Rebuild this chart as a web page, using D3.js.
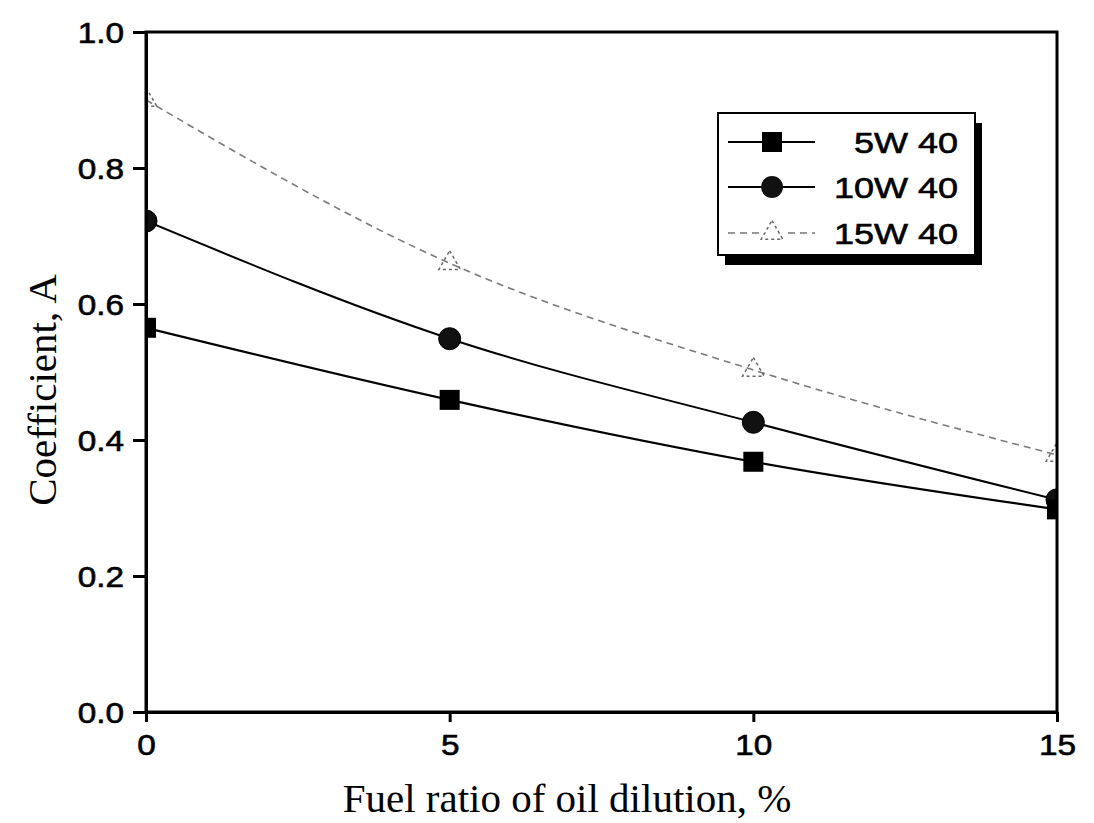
<!DOCTYPE html>
<html>
<head>
<meta charset="utf-8">
<script src="https://cdn.jsdelivr.net/npm/d3@7"></script>
<style>
  html, body { margin: 0; padding: 0; background: #fff; }
  svg { display: block; }
</style>
</head>
<body>
<svg id="chart" width="1094" height="823"></svg>
<script>
// ---- data ----
const dilution = [0, 5, 10, 15];
const oil5W40  = [0.565, 0.459, 0.368, 0.298];
const oil10W40 = [0.722, 0.549, 0.426, 0.312];
const oil15W40 = [0.90, 0.66, 0.503, 0.378];
const seriesNames = ["5W 40", "10W 40", "15W 40"];
const xTicks = [0, 5, 10, 15];
const yTicks = [0.0, 0.2, 0.4, 0.6, 0.8, 1.0];
const xTitle = "Fuel ratio of oil dilution, %";
const yTitle = "Coefficient, A";

const svg = d3.select("#chart");
const L = 146, R = 1057, T = 32, B = 712;
const x = d3.scaleLinear().domain([0, 15]).range([L, R]);
const y = d3.scaleLinear().domain([0, 1]).range([B, T]);

svg.append("defs").append("clipPath").attr("id", "plotclip")
  .append("rect").attr("x", L).attr("y", T).attr("width", R - L).attr("height", B - T);

const plot = svg.append("g").attr("clip-path", "url(#plotclip)");

const line = d3.line().x((d, i) => x(dilution[i])).y(d => y(d)).curve(d3.curveMonotoneX);

// 15W 40: faint dashed
plot.append("path").datum(oil15W40).attr("d", line)
  .attr("fill", "none").attr("stroke", "#7a7a7a").attr("stroke-width", 1.6)
  .attr("stroke-dasharray", "7,5");
plot.append("path").datum(oil10W40).attr("d", line)
  .attr("fill", "none").attr("stroke", "#000").attr("stroke-width", 2);
plot.append("path").datum(oil5W40).attr("d", line)
  .attr("fill", "none").attr("stroke", "#000").attr("stroke-width", 2.2);

const sq = 20, cr = 11, tri = d3.symbol().type(d3.symbolTriangle).size(200);

plot.selectAll(".tri").data(oil15W40).join("path")
  .attr("transform", (d, i) => `translate(${x(dilution[i])},${y(d)})`)
  .attr("d", tri()).attr("fill", "none").attr("stroke", "#666")
  .attr("stroke-width", 1.5).attr("stroke-dasharray", "3,3");

plot.selectAll(".circ").data(oil10W40).join("circle")
  .attr("cx", (d, i) => x(dilution[i])).attr("cy", d => y(d)).attr("r", cr)
  .attr("fill", "#111").attr("stroke", "#000").attr("stroke-width", 1);

plot.selectAll(".sq").data(oil5W40).join("rect")
  .attr("x", (d, i) => x(dilution[i]) - sq / 2).attr("y", d => y(d) - sq / 2)
  .attr("width", sq).attr("height", sq).attr("fill", "#000");

// ---- frame ----
svg.append("rect").attr("x", L).attr("y", T).attr("width", R - L).attr("height", B - T)
  .attr("fill", "none").attr("stroke", "#000").attr("stroke-width", 3);

// ---- axes ----
const fontSans = "'Liberation Sans', Arial, sans-serif";
const yAxis = svg.append("g").attr("transform", `translate(${L},0)`)
  .call(d3.axisLeft(y).tickValues(yTicks).tickFormat(d3.format(".1f")).tickSize(13).tickSizeOuter(0));
yAxis.select(".domain").attr("stroke-width", 3);
yAxis.selectAll(".tick line").attr("stroke-width", 3);
yAxis.selectAll(".tick text")
  .attr("x", 0).attr("dy", "0.36em")
  .attr("transform", "translate(-22,0) scale(1.15,1)")
  .attr("font-family", fontSans).attr("font-size", 29).attr("fill", "#000")
  .attr("stroke", "#000").attr("stroke-width", 0.6);

const xAxis = svg.append("g").attr("transform", `translate(0,${B})`)
  .call(d3.axisBottom(x).tickValues(xTicks).tickFormat(d3.format("d")).tickSize(10).tickSizeOuter(0));
xAxis.select(".domain").attr("stroke-width", 3);
xAxis.selectAll(".tick line").attr("stroke-width", 3);
xAxis.selectAll(".tick text")
  .attr("y", 22).attr("dy", "0.71em")
  .attr("transform", "scale(1.15,1)")
  .attr("font-family", fontSans).attr("font-size", 29).attr("fill", "#000")
  .attr("stroke", "#000").attr("stroke-width", 0.6);
svg.selectAll(".domain").attr("stroke", "#000");

// ---- titles ----
svg.append("text").attr("x", 567).attr("y", 812).attr("text-anchor", "middle")
  .attr("font-family", "'Liberation Serif', 'Times New Roman', serif").attr("font-size", 41)
  .text(xTitle);
svg.append("text").attr("transform", "translate(56,390) rotate(-90)").attr("text-anchor", "middle")
  .attr("font-family", "'Liberation Serif', 'Times New Roman', serif").attr("font-size", 41)
  .text(yTitle);

// ---- legend ----
const lg = svg.append("g");
lg.append("rect").attr("x", 725).attr("y", 123).attr("width", 257).attr("height", 142).attr("fill", "#000");
lg.append("rect").attr("x", 718).attr("y", 113).attr("width", 257).attr("height", 142)
  .attr("fill", "#fff").attr("stroke", "#000").attr("stroke-width", 2);
const rows = [142, 187, 233];
seriesNames.forEach((name, i) => {
  const g = lg.append("g").attr("transform", `translate(0,${rows[i]})`);
  const dashed = i === 2;
  g.append("line").attr("x1", 728).attr("x2", 815).attr("y1", 0).attr("y2", 0)
    .attr("stroke", dashed ? "#777" : "#000").attr("stroke-width", dashed ? 1.6 : 2)
    .attr("stroke-dasharray", dashed ? "7,5" : null);
  if (i === 0) {
    g.append("rect").attr("x", 772 - sq / 2).attr("y", -sq / 2).attr("width", sq).attr("height", sq).attr("fill", "#000");
  } else if (i === 1) {
    g.append("circle").attr("cx", 772).attr("cy", 0).attr("r", cr).attr("fill", "#111");
  } else {
    g.append("rect").attr("x", 760).attr("y", -12).attr("width", 24).attr("height", 24).attr("fill", "#fff");
    g.append("path").attr("transform", "translate(772,0)").attr("d", tri())
      .attr("fill", "none").attr("stroke", "#666").attr("stroke-width", 1.5).attr("stroke-dasharray", "3,3");
  }
  g.append("text").attr("transform", "translate(958,11) scale(1.2,1)").attr("text-anchor", "end")
    .attr("font-family", fontSans).attr("font-size", 30).attr("fill", "#000")
    .attr("stroke", "#000").attr("stroke-width", 0.6).text(name);
});
</script>
</body>
</html>
